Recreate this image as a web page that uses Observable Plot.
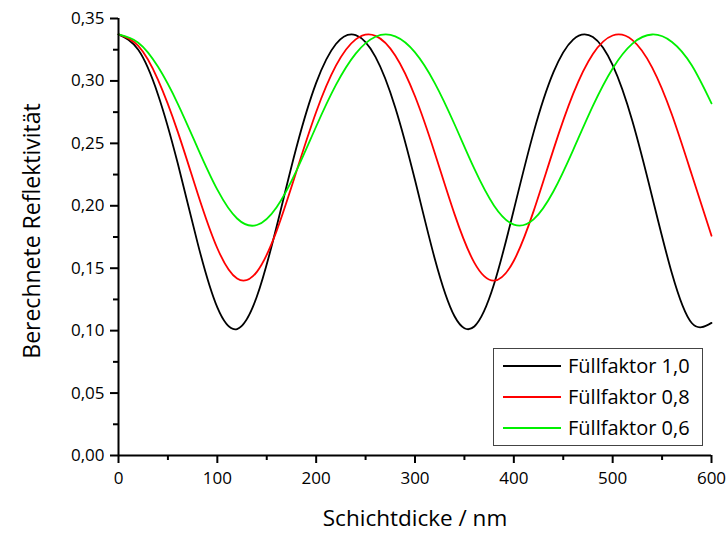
<!DOCTYPE html>
<html>
<head>
<meta charset="utf-8">
<script src="https://cdn.jsdelivr.net/npm/d3@7"></script>
<script src="https://cdn.jsdelivr.net/npm/@observablehq/plot@0.6"></script>
<style>
  html, body { margin: 0; padding: 0; background: #fff; }
  #chart { position: relative; width: 728px; height: 536px; font-family: "Open Sans", "Noto Sans", sans-serif; }
  #legend { position: absolute; left: 493px; top: 348px; }
</style>
</head>
<body>
<div id="chart"></div>
<script>
// Layer thickness (nm)
const thickness = [0, 20, 40, 60, 80, 100, 120, 140, 160, 180, 200, 220, 240, 260, 280, 300,
                   320, 340, 360, 380, 400, 420, 440, 460, 480, 500, 520, 540, 560, 580, 600];
// Computed reflectivity, fill factor 1,0
const ff10 = [0.3373, 0.3249, 0.2890, 0.2338, 0.1703, 0.1186, 0.1013, 0.1273, 0.1834, 0.2466, 0.2984,
              0.3296, 0.3367, 0.3193, 0.2788, 0.2206, 0.1576, 0.1115, 0.1033, 0.1373, 0.1968, 0.2588,
              0.3068, 0.3331, 0.3351, 0.3126, 0.2677, 0.2071, 0.1457, 0.1061, 0.1062];
// fill factor 0,8
const ff08 = [0.3373, 0.3280, 0.3009, 0.2592, 0.2101, 0.1660, 0.1417, 0.1471, 0.1799, 0.2274, 0.2751,
              0.3122, 0.3333, 0.3361, 0.3204, 0.2877, 0.2423, 0.1933, 0.1545, 0.1401, 0.1560, 0.1957,
              0.2448, 0.2896, 0.3216, 0.3364, 0.3327, 0.3107, 0.2729, 0.2250, 0.1760];
// fill factor 0,6
const ff06 = [0.3372, 0.3306, 0.3113, 0.2817, 0.2464, 0.2129, 0.1898, 0.1846, 0.1989, 0.2280, 0.2635,
              0.2968, 0.3219, 0.3354, 0.3357, 0.3229, 0.2983, 0.2653, 0.2297, 0.2001, 0.1849, 0.1891,
              0.2114, 0.2446, 0.2800, 0.3100, 0.3299, 0.3372, 0.3312, 0.3125, 0.2820];

const seriesNames = ["Füllfaktor 1,0", "Füllfaktor 0,8", "Füllfaktor 0,6"];
const seriesColors = ["#000000", "#ff0000", "#00f000"];
const xTicks = [0, 100, 200, 300, 400, 500, 600];
const xMinorTicks = [50, 150, 250, 350, 450, 550];
const yTicks = [0, 0.05, 0.10, 0.15, 0.20, 0.25, 0.30, 0.35];
const yMinorTicks = [0.025, 0.075, 0.125, 0.175, 0.225, 0.275, 0.325];
const xTitle = "Schichtdicke / nm";
const yTitle = "Berechnete Reflektivität";

const seriesValues = [ff10, ff08, ff06];
const rows = [];
seriesValues.forEach((vals, k) => {
  thickness.forEach((x, i) => rows.push({x, y: vals[i], s: seriesNames[k]}));
});

const fmt = d => d.toFixed(2).replace(".", ",");

const chart = Plot.plot({
  width: 728,
  height: 536,
  marginLeft: 118,
  marginRight: 17,
  marginTop: 18,
  marginBottom: 81,
  style: {fontFamily: "'Open Sans', 'Noto Sans', sans-serif", background: "#fff", color: "#000"},
  x: {domain: [0, 600]},
  y: {domain: [0, 0.35]},
  color: {domain: seriesNames, range: seriesColors},
  marks: [
    Plot.line(rows, {x: "x", y: "y", z: "s", stroke: "s", strokeWidth: 1.8, curve: "natural"}),
    Plot.ruleX([0], {strokeWidth: 2}),
    Plot.ruleY([0], {strokeWidth: 2}),
    Plot.axisX({ticks: xTicks, tickSize: 8, tickPadding: 8, tickFormat: d => String(d), strokeWidth: 2, fontSize: 17, label: null}),
    Plot.axisX({ticks: xMinorTicks, tickSize: 5, tickFormat: () => "", strokeWidth: 2, label: null}),
    Plot.axisY({ticks: yTicks, tickSize: 8, tickPadding: 6, tickFormat: fmt, strokeWidth: 2, fontSize: 17, label: null}),
    Plot.axisY({ticks: yMinorTicks, tickSize: 5, tickFormat: () => "", strokeWidth: 2, label: null}),
    Plot.text([xTitle], {frameAnchor: "bottom", dy: 70, fontSize: 22.5, textAnchor: "middle", fill: "#000"}),
    Plot.text([yTitle], {frameAnchor: "left", dx: -86, dy: -6, rotate: -90, fontSize: 23, textAnchor: "middle", fill: "#000"})
  ]
});
document.getElementById("chart").appendChild(chart);

// Legend box
const ns = "http://www.w3.org/2000/svg";
const lg = document.createElementNS(ns, "svg");
lg.setAttribute("id", "legend");
lg.setAttribute("width", 211);
lg.setAttribute("height", 99);
const box = document.createElementNS(ns, "rect");
box.setAttribute("x", 0.5); box.setAttribute("y", 0.5);
box.setAttribute("width", 209); box.setAttribute("height", 97);
box.setAttribute("fill", "#fff"); box.setAttribute("stroke", "#444"); box.setAttribute("stroke-width", 1);
lg.appendChild(box);
seriesNames.forEach((name, i) => {
  const cy = 18 + i * 31;
  const ln = document.createElementNS(ns, "line");
  ln.setAttribute("x1", 10); ln.setAttribute("x2", 68);
  ln.setAttribute("y1", cy); ln.setAttribute("y2", cy);
  ln.setAttribute("stroke", seriesColors[i]); ln.setAttribute("stroke-width", 1.8);
  lg.appendChild(ln);
  const tx = document.createElementNS(ns, "text");
  tx.setAttribute("x", 75); tx.setAttribute("y", cy);
  tx.setAttribute("dy", "0.35em");
  tx.setAttribute("font-size", 20);
  tx.setAttribute("font-family", "'Open Sans', 'Noto Sans', sans-serif");
  tx.setAttribute("fill", "#000");
  tx.textContent = name;
  lg.appendChild(tx);
});
document.getElementById("chart").appendChild(lg);
</script>
</body>
</html>
